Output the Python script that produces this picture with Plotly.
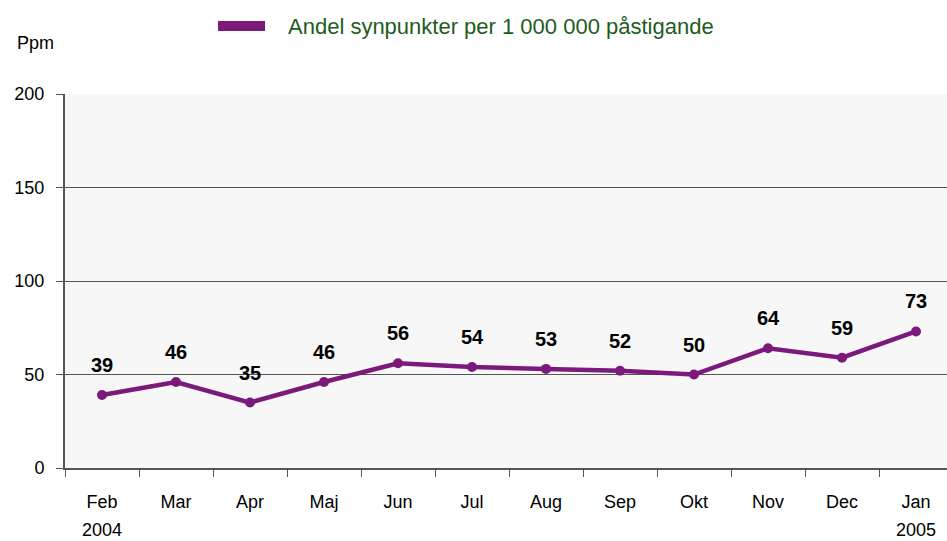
import plotly.graph_objects as go

months = ["Feb", "Mar", "Apr", "Maj", "Jun", "Jul", "Aug", "Sep", "Okt", "Nov", "Dec", "Jan"]
years = {"Feb": "2004", "Jan": "2005"}
values = [39, 46, 35, 46, 56, 54, 53, 52, 50, 64, 59, 73]
series_name = "Andel synpunkter per 1 000 000 påstigande"
y_ticks = [0, 50, 100, 150, 200]

FONT = "Liberation Sans Narrow, Arial Narrow, Liberation Sans, Arial, sans-serif"
PURPLE = "#7b1a7b"
L, T, W, H = 65, 94, 882, 374
CAT_PX = 74.0  # pixel width of one category in the reference


def px(x):
    return (x - L) / W


def py(y):
    return 1 + (T - y) / H


fig = go.Figure()
fig.add_trace(go.Scatter(
    x=months, y=values, mode="lines+markers", name=series_name,
    line=dict(color=PURPLE, width=4.5),
    marker=dict(color=PURPLE, size=10),
    showlegend=False, hoverinfo="skip"))

annotations = []
for m, v in zip(months, values):
    annotations.append(dict(x=m, y=v, text="<b>%d</b>" % v, showarrow=False,
                            yshift=30, font=dict(family=FONT, size=20, color="#000000")))
for m, yr in years.items():
    annotations.append(dict(x=m, y=0, yref="y", text=yr, showarrow=False,
                            yshift=-62, font=dict(family=FONT, size=18, color="#000000")))
annotations.append(dict(x=px(15), y=py(43), xref="paper", yref="paper",
                        xanchor="left", yanchor="middle", text="Ppm", showarrow=False,
                        font=dict(family=FONT, size=18, color="#000000")))
# legend (drawn manually to match the reference's wide swatch)
annotations.append(dict(x=px(286), y=py(27), xref="paper", yref="paper",
                        xanchor="left", yanchor="middle", text=series_name, showarrow=False,
                        font=dict(family=FONT, size=22, color="#1e5c1e")))
shapes = [dict(type="line", xref="paper", yref="paper", x0=px(218), x1=px(265),
               y0=py(26), y1=py(26), line=dict(color=PURPLE, width=10))]

fig.update_layout(
    width=947, height=541,
    margin=dict(l=L, r=0, t=T, b=541 - T - H, autoexpand=False),
    paper_bgcolor="#ffffff", plot_bgcolor="#f7f7f7",
    font=dict(family=FONT, size=18, color="#000000"),
    showlegend=False,
    annotations=annotations,
    shapes=shapes,
)
fig.update_xaxes(
    type="category", categoryorder="array", categoryarray=months,
    tickson="boundaries", ticks="outside", ticklen=7, tickcolor="#555555",
    showline=True, linecolor="#555555", linewidth=2, showgrid=False,
    range=[-0.5, -0.5 + W / CAT_PX], tickfont=dict(family=FONT, size=18), zeroline=False,
    ticklabelstandoff=16, automargin=False)
fig.update_yaxes(
    range=[0, 200], tickvals=y_ticks, ticks="outside", ticklen=7, tickcolor="#555555",
    showline=True, linecolor="#555555", linewidth=2,
    showgrid=True, gridcolor="#555555", gridwidth=1, zeroline=False,
    tickfont=dict(family=FONT, size=18), ticklabelstandoff=8, automargin=False)

fig.write_html("out.html", config={"displayModeBar": False},
               post_script="document.body.style.margin='0';document.body.style.padding='0';")
